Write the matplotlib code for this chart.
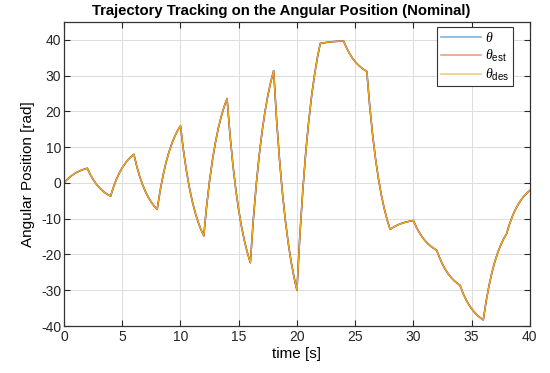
import numpy as np
import matplotlib.pyplot as plt

time = np.arange(0, 40.001, 0.25)

theta = [
    0.0,
    0.91, 1.65, 2.28, 2.79, 3.21, 3.57, 3.86, 4.1,
    2.38, 0.96, -0.23, -1.20, -2.02, -2.69, -3.24, -3.7,
    -1.11, 1.02, 2.79, 4.26, 5.47, 6.48, 7.31, 8.0,
    4.60, 1.79, -0.55, -2.47, -4.07, -5.40, -6.49, -7.4,
    -2.23, 2.03, 5.59, 8.51, 10.95, 12.96, 14.62, 16.0,
    9.19, 3.59, -1.09, -4.94, -8.15, -10.80, -12.98, -14.8,
    -6.31, 0.68, 6.51, 11.31, 15.31, 18.61, 21.33, 23.6,
    13.46, 5.10, -1.87, -7.61, -12.39, -16.33, -19.59, -22.3,
    -10.43, -0.66, 7.50, 14.22, 19.80, 24.42, 28.23, 31.4,
    17.83, 6.66, -2.68, -10.35, -16.74, -22.02, -26.38, -30.0,
    -14.75, -2.19, 8.30, 16.92, 24.10, 30.03, 34.93, 39.0,
    39.15, 39.28, 39.39, 39.48, 39.55, 39.61, 39.66, 39.7,
    37.82, 36.27, 34.98, 33.92, 33.04, 32.30, 31.70, 31.2,
    21.43, 13.39, 6.67, 1.14, -3.45, -7.25, -10.39, -13.0,
    -12.45, -11.99, -11.61, -11.30, -11.04, -10.83, -10.65, -10.5,
    -12.33, -13.84, -15.11, -16.14, -17.01, -17.72, -18.31, -18.8,
    -20.97, -22.75, -24.24, -25.46, -26.48, -27.33, -28.02, -28.6,
    -30.74, -32.51, -33.98, -35.20, -36.20, -37.04, -37.73, -38.3,
    -32.97, -28.59, -24.92, -21.91, -19.41, -17.33, -15.62, -14.2,
    -11.53, -9.32, -7.48, -5.97, -4.71, -3.67, -2.81, -2.1,
]
theta_est = list(theta)
theta_des = list(theta)

x_ticks = [0, 5, 10, 15, 20, 25, 30, 35, 40]
y_ticks = [-40, -30, -20, -10, 0, 10, 20, 30, 40]

# --- Style (MATLAB-like) ---
plt.rcParams['font.family'] = ['Liberation Sans', 'DejaVu Sans']
plt.rcParams['axes.unicode_minus'] = False
plt.rcParams['mathtext.fontset'] = 'custom'
plt.rcParams['mathtext.it'] = 'Liberation Serif:italic'
plt.rcParams['mathtext.rm'] = 'Liberation Sans'

fig = plt.figure(figsize=(5.5, 3.73), dpi=100)
ax = fig.add_axes([0.1164, 0.126, 0.847, 0.815])

ax.plot(time, theta, color='#0072BD', linewidth=1.1, label=r'$\theta$')
ax.plot(time, theta_est, color='#D95319', linewidth=1.1, label=r'$\theta_{\mathrm{est}}$')
ax.plot(time, theta_des, color='#EDB120', linewidth=0.8, label=r'$\theta_{\mathrm{des}}$')

ax.set_xlim(0, 40)
ax.set_ylim(-40, 45)
ax.set_xticks(x_ticks)
ax.set_yticks(y_ticks)
ax.tick_params(direction='in', top=True, right=True, length=4, pad=3,
               labelsize=10, colors='#262626', width=0.8)
ax.tick_params(axis='y', pad=2)
for s in ax.spines.values():
    s.set_color('#333333')
    s.set_linewidth(0.9)
ax.grid(True, color='#dcdcdc', linewidth=0.7)
ax.set_axisbelow(True)

ax.set_title("Trajectory Tracking on the Angular Position (Nominal)",
             fontsize=10.7, fontweight='bold', pad=5, x=0.467)
ax.set_xlabel("time [s]", fontsize=11, labelpad=2)
ax.set_ylabel("Angular Position [rad]", fontsize=11, labelpad=4)

leg = ax.legend(loc='upper right', fontsize=10, handlelength=2.9,
                fancybox=False, framealpha=1, edgecolor='#333333',
                borderaxespad=0.6, borderpad=0.25, labelspacing=0.2,
                handletextpad=0.3, bbox_to_anchor=(0.982, 1.01))
leg.get_frame().set_linewidth(0.8)
for h, c in zip(leg.get_lines(), ['#7ab4e0', '#ee9e80', '#f3cc78']):
    h.set_color(c)
    h.set_linewidth(1.2)

fig.savefig('out.png', dpi=100)
